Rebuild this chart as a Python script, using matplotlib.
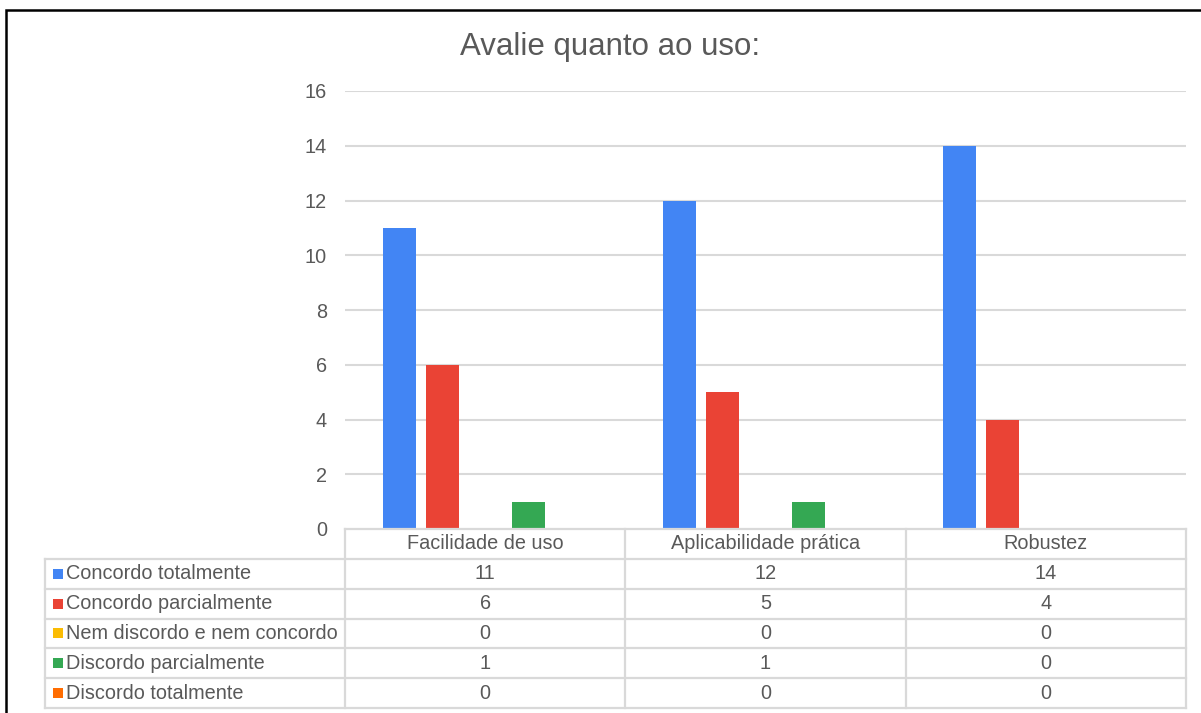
import matplotlib
matplotlib.use("Agg")
import matplotlib.pyplot as plt
from matplotlib.patches import Rectangle

plt.rcParams['font.family'] = ['Liberation Sans', 'DejaVu Sans']

title = "Avalie quanto ao uso:"
categories = ["Facilidade de uso", "Aplicabilidade prática", "Robustez"]
series_names = ["Concordo totalmente", "Concordo parcialmente",
                "Nem discordo e nem concordo", "Discordo parcialmente",
                "Discordo totalmente"]
concordo_totalmente = [11, 12, 14]
concordo_parcialmente = [6, 5, 4]
nem_discordo = [0, 0, 0]
discordo_parcialmente = [1, 1, 0]
discordo_totalmente = [0, 0, 0]
series_values = [concordo_totalmente, concordo_parcialmente, nem_discordo,
                 discordo_parcialmente, discordo_totalmente]
colors = ["#4285F4", "#EA4335", "#FBBC04", "#34A853", "#FF6D01"]
yticks = [0, 2, 4, 6, 8, 10, 12, 14, 16]

W, H = 1201, 713
fig = plt.figure(figsize=(W / 100, H / 100), dpi=100)

TXT = "#595959"
GRID = "#d9d9d9"
FS = 14.3

# plot axes
x0, x1 = 345, 1186
y_top, y_zero = 91, 529
ax = fig.add_axes([x0 / W, 1 - y_zero / H, (x1 - x0) / W, (y_zero - y_top) / H])
ax.set_xlim(0, 3)
ax.set_ylim(0, 16)
slot = 0.1536
bw = 0.118
for k, (vals, col) in enumerate(zip(series_values, colors)):
    xs = [i + 0.5 + (k - 2) * slot for i in range(len(categories))]
    ax.bar(xs, vals, width=bw, color=col, linewidth=0, zorder=3)
ax.set_yticks(yticks)
ax.set_yticklabels([str(t) for t in yticks], fontsize=FS, color=TXT)
ax.tick_params(axis='y', length=0, pad=13)
ax.set_xticks([])
for t in yticks[1:]:
    ax.axhline(t, color=GRID, lw=1.5, zorder=1)
for s in ax.spines.values():
    s.set_visible(False)

fig.text(610 / W, 1 - 47 / H, title, ha='center', va='center', fontsize=22.5, color=TXT)

# data table
tl, tr, tt, tb = 45, 1186, 529, 708
tax = fig.add_axes([tl / W, 1 - tb / H, (tr - tl) / W, (tb - tt) / H])
catw = (x1 - x0) / 3
left_col = -(x0 - tl) / catw
nrows = len(series_names) + 1
tax.set_xlim(left_col, 3)
tax.set_ylim(nrows, 0)
tax.axis('off')
lk = dict(color=GRID, lw=1.6, solid_capstyle='projecting', clip_on=False)
tax.plot([0, 3], [0, 0], **lk)
for r in range(1, nrows + 1):
    tax.plot([left_col, 3], [r, r], **lk)
for c in range(4):
    tax.plot([c, c], [0, nrows], **lk)
tax.plot([left_col, left_col], [1, nrows], **lk)
for i, cat in enumerate(categories):
    tax.text(i + 0.5, 0.5, cat, ha='center', va='center', fontsize=FS, color=TXT)
sq_x = (58 - x0) / catw
tx_x = (66 - x0) / catw
for r, (name, vals, col) in enumerate(zip(series_names, series_values, colors), start=1):
    tax.plot([sq_x], [r + 0.5], marker='s', ms=7, color=col, mew=0, clip_on=False)
    tax.text(tx_x, r + 0.5, name, ha='left', va='center', fontsize=FS, color=TXT)
    for i, v in enumerate(vals):
        tax.text(i + 0.5, r + 0.5, str(v), ha='center', va='center', fontsize=FS, color=TXT)

# outer frame
fig.patches.append(Rectangle((6 / W, -0.1), 1.1, 1.1 - 10 / H, transform=fig.transFigure,
                             fill=False, edgecolor='black', lw=1.8))

fig.savefig("out.png", dpi=100)
